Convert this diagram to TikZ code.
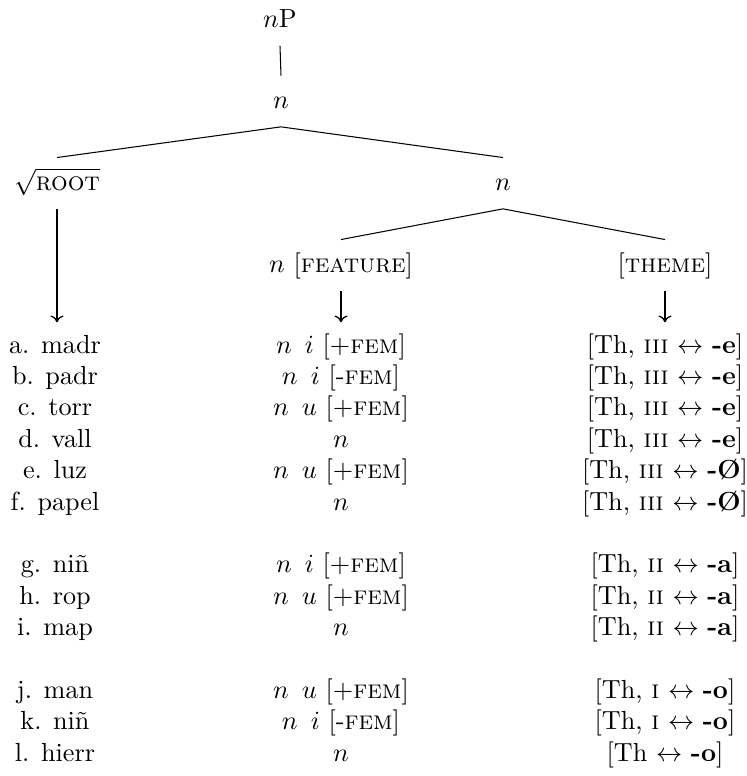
\documentclass[tikz,border=0pt]{standalone}
\usepackage{fontspec}
\usetikzlibrary{arrows.meta}
\tikzset{
  tnode/.style={anchor=base, inner xsep=0pt, inner ysep=5pt,
                text height=7.2pt, text depth=2pt},
  cell/.style={anchor=base, inner xsep=0pt, inner ysep=4.5pt,
               text height=7pt, text depth=2pt},
  br/.style={line width=0.4pt},
  ar/.style={-{To[length=2.6pt,width=5pt]}, line width=0.5pt}
}
\newcommand{\nfem}[2]{$n$\enspace$#1$ [#2\textsc{fem}]}
\newcommand{\thexp}[2]{[Th, \textsc{#1} $\leftrightarrow$ \textbf{-#2}]}

\begin{document}
\begin{tikzpicture}[x=0.382pt, y=-0.382pt]
  \useasboundingbox (0,0) rectangle (747,776);
  % the tree
  \node[tnode] (np) at (280,27) {$n$P};
  \node[tnode] (n1) at (281,108) {$n$};
  \node[tnode] (root) at (57,190) {$\sqrt{\textsc{root}}$};
  \node[tnode] (n2) at (503,190) {$n$};
  \node[tnode] (feat) at (341,272) {$n$ [\textsc{feature}]};
  \node[tnode] (theme) at (665,272) {[\textsc{theme}]};
  \draw[br] (np.south) -- (n1.north);
  \draw[br] (root.north) -- (n1.south) -- (n2.north);
  \draw[br] (feat.north) -- (n2.south) -- (theme.north);
  % the rows, one per root
  \foreach \r/\k/\w/\f/\e in {
    0/a/madr/{\nfem{i}{$+$}}/{\thexp{iii}{e}},
    1/b/padr/{\nfem{i}{-}}/{\thexp{iii}{e}},
    2/c/torr/{\nfem{u}{$+$}}/{\thexp{iii}{e}},
    3/d/vall/{$n$}/{\thexp{iii}{e}},
    4/e/luz/{\nfem{u}{$+$}}/{\thexp{iii}{\O}},
    5/f/papel/{$n$}/{\thexp{iii}{\O}},
    7/g/niñ/{\nfem{i}{$+$}}/{\thexp{ii}{a}},
    8/h/rop/{\nfem{u}{$+$}}/{\thexp{ii}{a}},
    9/i/map/{$n$}/{\thexp{ii}{a}},
    11/j/man/{\nfem{u}{$+$}}/{\thexp{i}{o}},
    12/k/niñ/{\nfem{i}{-}}/{\thexp{i}{o}},
    13/l/hierr/{$n$}/{[Th $\leftrightarrow$ \textbf{-o}]}} {
    \node[cell] (lft-\k) at (55,353+31.4*\r) {\k. \w};
    \node[cell] (mid-\k) at (341,353+31.4*\r) {\f};
    \node[cell] (rgt-\k) at (665,353+31.4*\r) {\e};
  }
  \draw[ar] (root.south) -- (root.south |- lft-a.north);
  \draw[ar] (feat.south) -- (feat.south |- mid-a.north);
  \draw[ar] (theme.south) -- (theme.south |- rgt-a.north);
\end{tikzpicture}
\end{document}
